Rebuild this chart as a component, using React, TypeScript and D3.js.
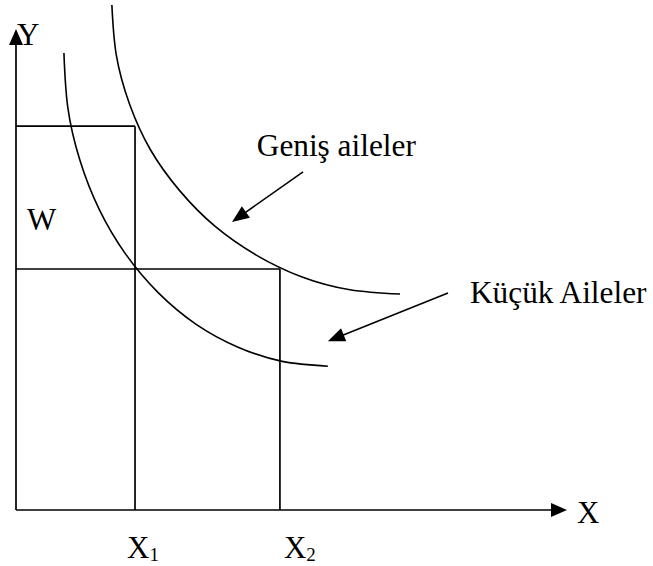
import React from "react";
import * as d3 from "d3";

// Curve points (data units: x 0..100 along X axis, y 0..100 along Y axis)
const largeFamilyX = [17.4, 18.2, 20.6, 24.4, 29.7, 36.1, 43.6, 51.8, 60.6, 69.7];
const largeFamilyY = [105.0, 94.6, 84.4, 74.9, 66.4, 59.0, 53.0, 48.5, 45.8, 44.9];
const smallFamilyX = [8.7, 9.4, 11.6, 15.1, 19.9, 25.8, 32.7, 40.2, 48.3, 56.6];
const smallFamilyY = [95.0, 83.7, 72.7, 62.5, 53.2, 45.2, 38.6, 33.9, 30.9, 29.9];

// Reference levels
const xLevels = [21.6, 47.9]; // X1, X2
const yLevels = [79.8, 50.1]; // top of W box, common level
const xTickLabels = ["1", "2"];

// Annotation arrows: [fromX, fromY, toX, toY] in data units
const arrowFrom = [[52.1, 70.3], [78.4, 45.1]];
const arrowTo = [[39.2, 59.9], [56.6, 35.1]];
const arrowLabels = ["Geniş aileler", "Küçük Aileler"];
const arrowLabelPos = [[43.7, 73.6], [82.4, 43.0]];

const W = 653;
const H = 566;
const FONT = "'Liberation Serif', 'Times New Roman', serif";

const x = d3.scaleLinear().domain([0, 100]).range([16, 567]);
const y = d3.scaleLinear().domain([0, 100]).range([510, 29]);

function triangle(tipX: number, tipY: number, fromX: number, fromY: number, len: number, half: number) {
  const dx = tipX - fromX;
  const dy = tipY - fromY;
  const L = Math.hypot(dx, dy);
  const ux = dx / L;
  const uy = dy / L;
  const bx = tipX - ux * len;
  const by = tipY - uy * len;
  const px = -uy * half;
  const py = ux * half;
  return `M${tipX},${tipY}L${bx + px},${by + py}L${bx - px},${by - py}Z`;
}

export default function App() {
  const line = d3
    .line<[number, number]>()
    .x((d) => x(d[0]))
    .y((d) => y(d[1]))
    .curve(d3.curveNatural);

  const large: [number, number][] = largeFamilyX.map((v, i) => [v, largeFamilyY[i]]);
  const small: [number, number][] = smallFamilyX.map((v, i) => [v, smallFamilyY[i]]);

  const sw = 1.7;

  return (
    <svg
      width={W}
      height={H}
      style={{ position: "absolute", left: 0, top: 0, background: "#fff" }}
      fontFamily={FONT}
    >
      {/* Axes */}
      <line x1={x(0)} y1={y(0)} x2={x(0)} y2={y(100) + 14} stroke="#000" strokeWidth={sw} />
      <path d={triangle(x(0), y(100), x(0), y(0), 16, 7)} fill="#000" />
      <line x1={x(0)} y1={y(0)} x2={x(100) - 14} y2={y(0)} stroke="#000" strokeWidth={sw} />
      <path d={triangle(x(100), y(0), x(0), y(0), 16, 7)} fill="#000" />

      {/* Reference lines */}
      <line x1={x(0)} y1={y(yLevels[0])} x2={x(xLevels[0])} y2={y(yLevels[0])} stroke="#000" strokeWidth={sw} />
      <line x1={x(0)} y1={y(yLevels[1])} x2={x(xLevels[1])} y2={y(yLevels[1])} stroke="#000" strokeWidth={sw} />
      <line x1={x(xLevels[0])} y1={y(0)} x2={x(xLevels[0])} y2={y(yLevels[0])} stroke="#000" strokeWidth={sw} />
      <line x1={x(xLevels[1])} y1={y(0)} x2={x(xLevels[1])} y2={y(yLevels[1])} stroke="#000" strokeWidth={sw} />

      {/* Curves */}
      <path d={line(large) ?? ""} fill="none" stroke="#000" strokeWidth={1.6} />
      <path d={line(small) ?? ""} fill="none" stroke="#000" strokeWidth={1.6} />

      {/* Annotation arrows */}
      {arrowFrom.map((f, i) => {
        const t = arrowTo[i];
        const fx = x(f[0]);
        const fy = y(f[1]);
        const tx = x(t[0]);
        const ty = y(t[1]);
        const L = Math.hypot(tx - fx, ty - fy);
        const ex = tx - ((tx - fx) / L) * 14;
        const ey = ty - ((ty - fy) / L) * 14;
        return (
          <g key={i}>
            <line x1={fx} y1={fy} x2={ex} y2={ey} stroke="#000" strokeWidth={1.6} />
            <path d={triangle(tx, ty, fx, fy, 17, 7)} fill="#000" />
          </g>
        );
      })}
      {arrowLabels.map((t, i) => (
        <text key={t} x={x(arrowLabelPos[i][0])} y={y(arrowLabelPos[i][1])} fontSize={31.3}>
          {t}
        </text>
      ))}

      {/* Labels */}
      <text x={17} y={45} fontSize={31}>Y</text>
      <text x={x(100) + 10} y={y(0) + 13} fontSize={31}>X</text>
      <text x={27} y={230} fontSize={31}>W</text>
      {xLevels.map((v, i) => (
        <text key={i} x={i === 0 ? x(v) - 8 : x(v) + 4} y={y(0) + 48} fontSize={31}>
          X
          <tspan fontSize={19} dy={3}>{xTickLabels[i]}</tspan>
        </text>
      ))}
    </svg>
  );
}
